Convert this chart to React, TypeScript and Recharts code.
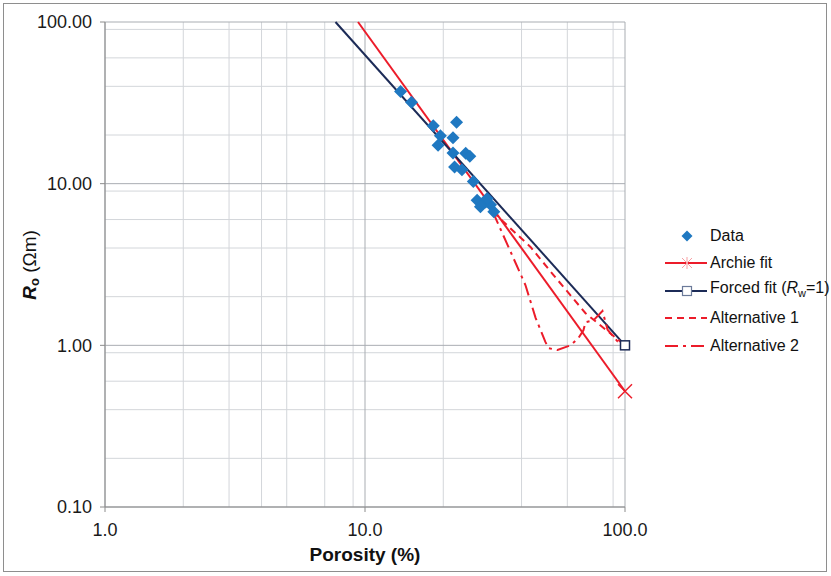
import React from "react";
import {
  ComposedChart,
  Line,
  Scatter,
  XAxis,
  YAxis,
  CartesianGrid,
  Legend,
} from "recharts";

// measured samples
const porosity = [13.7, 15.1, 18.3, 22.5, 19.5, 21.8, 19.1, 21.8, 24.4, 25.3, 22.1, 23.6, 26.1, 27.0, 29.1, 30.4, 31.3, 29.5, 27.8];
const resistivity = [37.1, 31.9, 22.8, 24.0, 19.8, 19.2, 17.3, 15.5, 15.4, 14.8, 12.7, 12.2, 10.3, 7.9, 7.7, 7.4, 6.7, 8.1, 7.2];

// fits
const archieX = [9.4, 100];
const archieY = [100, 0.52];
const forcedX = [7.7, 100];
const forcedY = [100, 1.0];
const alt1X = [31.0, 43.3, 53.1, 70.5, 100];
const alt1Y = [6.7, 4.06, 2.72, 1.58, 1.0];
const alt2X = [31.0, 41.4, 45.3, 49.4, 50.8, 55.0, 61.7, 66.2, 69.2, 70.5, 75.7, 81.9, 85.7, 93.5, 100];
const alt2Y = [6.7, 2.36, 1.48, 1.05, 0.96, 0.935, 1.0, 1.11, 1.24, 1.39, 1.43, 1.63, 1.25, 1.06, 1.0];

const xTicks = [1, 10, 100];
const yTicks = [0.1, 1, 10, 100];
const xMinor = [2, 3, 4, 5, 6, 7, 8, 9, 20, 30, 40, 50, 60, 70, 80, 90];
const yMinor = [0.2, 0.3, 0.4, 0.5, 0.6, 0.7, 0.8, 0.9, 2, 3, 4, 5, 6, 7, 8, 9, 20, 30, 40, 50, 60, 70, 80, 90];

const zip = (xs: number[], ys: number[]) => xs.map((x, i) => ({ x, y: ys[i] }));

const dataPts = zip(porosity, resistivity);
const archie = zip(archieX, archieY);
const forced = zip(forcedX, forcedY);
const alt1 = zip(alt1X, alt1Y);
const alt2 = zip(alt2X, alt2Y);

const RED = "#ec1c2a";
const NAVY = "#1c2b57";
const BLUE = "#1f78c1";
const FONT = "'Liberation Sans', Arial, Helvetica, sans-serif";

const Diamond = (props: any) => {
  const { cx, cy } = props;
  const r = 6.5;
  return <polygon points={`${cx},${cy - r} ${cx + r},${cy} ${cx},${cy + r} ${cx - r},${cy}`} fill={BLUE} />;
};

const StarEnd = (props: any) => {
  const { cx, cy, index } = props;
  if (index !== archie.length - 1) return <g key={index} />;
  const r = 7;
  return (
    <g key={index} stroke={RED} strokeWidth={1.5}>
      <line x1={cx - r} y1={cy - r} x2={cx + r} y2={cy + r} />
      <line x1={cx - r} y1={cy + r} x2={cx + r} y2={cy - r} />
    </g>
  );
};

const SquareEnd = (props: any) => {
  const { cx, cy, index } = props;
  if (index !== forced.length - 1) return <g key={index} />;
  return <rect key={index} x={cx - 4.5} y={cy - 4.5} width={9} height={9} fill="#fff" stroke={NAVY} strokeWidth={1.5} />;
};

const YLabel = () => (
  <text
    x={31}
    y={265}
    transform="rotate(-90, 31, 265)"
    textAnchor="middle"
    dominantBaseline="middle"
    fontFamily={FONT}
    fontSize={19}
    fill="#111"
  >
    <tspan fontWeight="bold" fontStyle="italic">R</tspan>
    <tspan fontWeight="bold" fontSize={13} dy={5}>o</tspan>
    <tspan dy={-5}> (Ωm)</tspan>
  </text>
);

const XLabel = () => (
  <text x={365} y={556} textAnchor="middle" dominantBaseline="middle" fontFamily={FONT} fontSize={19} fontWeight="bold" fill="#111">
    Porosity (%)
  </text>
);

const LegendContent = () => {
  const rowH = 27.5;
  const icon = (i: number) => {
    const y = 10;
    switch (i) {
      case 0:
        return <polygon points="22,4.5 27.5,10 22,15.5 16.5,10" fill={BLUE} />;
      case 1:
        return (
          <g>
            <line x1={0} y1={y} x2={42} y2={y} stroke={RED} strokeWidth={2} />
            <g stroke="#f7a0a4" strokeWidth={1}>
              <line x1={17} y1={5} x2={27} y2={15} />
              <line x1={17} y1={15} x2={27} y2={5} />
              <line x1={22} y1={4} x2={22} y2={16} />
            </g>
          </g>
        );
      case 2:
        return (
          <g>
            <line x1={0} y1={y} x2={42} y2={y} stroke={NAVY} strokeWidth={2} />
            <rect x={17.5} y={5.5} width={9} height={9} fill="#fff" stroke="#6b7a99" strokeWidth={1.2} />
          </g>
        );
      case 3:
        return <line x1={0} y1={y} x2={42} y2={y} stroke={RED} strokeWidth={2} strokeDasharray="7 5" />;
      default:
        return <line x1={0} y1={y} x2={42} y2={y} stroke={RED} strokeWidth={2} strokeDasharray="13 5 3 5" />;
    }
  };
  const labels: React.ReactNode[] = [
    "Data",
    "Archie fit",
    <span key="f">
      Forced fit (<i>R</i>
      <sub style={{ fontSize: 11 }}>w</sub>=1)
    </span>,
    "Alternative 1",
    "Alternative 2",
  ];
  return (
    <div style={{ fontFamily: FONT, fontSize: 16, color: "#111" }}>
      {labels.map((l, i) => (
        <div key={i} style={{ display: "flex", alignItems: "center", height: rowH }}>
          <svg width={44} height={20} style={{ marginRight: 1 }}>
            {icon(i)}
          </svg>
          <span style={{ whiteSpace: "nowrap", lineHeight: "20px" }}>{l}</span>
        </div>
      ))}
    </div>
  );
};

export default function App() {
  return (
    <div style={{ position: "absolute", left: 0, top: 0, width: 831, height: 576, background: "#fff" }}>
      <div
        style={{
          position: "absolute",
          left: 3,
          top: 3,
          width: 822,
          height: 567,
          border: "1.5px solid #8e8e8e",
        }}
      />
      <ComposedChart width={831} height={576} margin={{ top: 22, right: 206, bottom: 0, left: 10 }}>
        <CartesianGrid stroke="#d3d6da" verticalValues={xMinor} horizontalValues={yMinor} strokeWidth={1} />
        <CartesianGrid stroke="#a9adb2" verticalValues={xTicks} horizontalValues={yTicks} strokeWidth={1} />
        <XAxis
          type="number"
          dataKey="x"
          scale="log"
          domain={[1, 100]}
          ticks={xTicks}
          tickFormatter={(v: number) => v.toFixed(1)}
          tick={{ fill: "#1a1a1a", fontSize: 18, fontFamily: FONT }}
          stroke="#8c8c8c"
          tickSize={5}
          tickMargin={11}
          height={69}
          label={<XLabel />}
        />
        <YAxis
          type="number"
          dataKey="y"
          scale="log"
          domain={[0.1, 100]}
          ticks={yTicks}
          tickFormatter={(v: number) => v.toFixed(2)}
          tick={{ fill: "#1a1a1a", fontSize: 18, fontFamily: FONT }}
          stroke="#8c8c8c"
          tickSize={5}
          tickMargin={8}
          width={95}
          label={<YLabel />}
        />
        <Legend
          layout="vertical"
          align="center"
          verticalAlign="middle"
          content={<LegendContent />}
          wrapperStyle={{ left: 665, top: 222, width: 170 }}
        />
        <Line data={archie} dataKey="y" stroke={RED} strokeWidth={2} dot={<StarEnd />} isAnimationActive={false} />
        <Line data={forced} dataKey="y" stroke={NAVY} strokeWidth={2} dot={<SquareEnd />} isAnimationActive={false} />
        <Line data={alt1} dataKey="y" stroke={RED} strokeWidth={2} strokeDasharray="7 5" dot={false} isAnimationActive={false} />
        <Line data={alt2} dataKey="y" stroke={RED} strokeWidth={2} strokeDasharray="13 5 3 5" dot={false} isAnimationActive={false} />
        <Scatter data={dataPts} dataKey="y" shape={<Diamond />} isAnimationActive={false} />
      </ComposedChart>
    </div>
  );
}
